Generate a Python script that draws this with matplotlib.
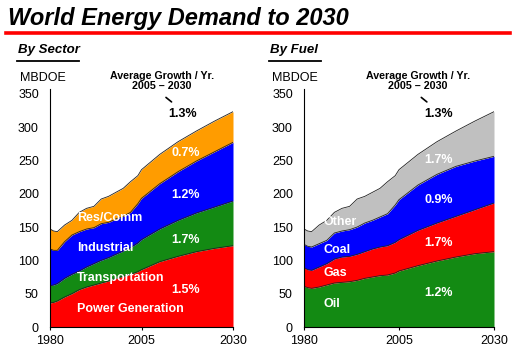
import matplotlib
matplotlib.use("Agg")
import matplotlib.pyplot as plt
from matplotlib.lines import Line2D

plt.rcParams['font.family'] = ['Liberation Sans', 'DejaVu Sans']

# data (MBDOE)
years = [1980, 1981, 1982, 1984, 1986, 1988, 1990, 1992, 1994, 1996, 1998,
         2000, 2002, 2004, 2005, 2010, 2015, 2020, 2025, 2030]

power = [36, 37, 39, 45, 50, 56, 60, 63, 66, 69, 73, 76, 79, 83, 86, 98, 106, 113, 118, 122]
transport = [26, 26, 26, 28, 29, 28, 30, 32, 34, 35, 36, 38, 40, 43, 45, 49, 54, 58, 62, 67]
industrial = [55, 52, 50, 55, 59, 59, 57, 54, 55, 53, 53, 52, 53, 59, 62, 68, 73, 78, 83, 88]
rescomm = [30, 29, 28, 25, 22, 29, 31, 32, 37, 39, 40, 42, 46, 42, 43, 44, 45, 45, 46, 46]

oil = [61, 59, 58, 60, 63, 66, 67, 68, 70, 73, 75, 77, 78, 81, 84, 92, 99, 105, 110, 113]
gas = [28, 27, 27, 30, 32, 36, 38, 38, 39, 40, 42, 43, 44, 46, 47, 53, 57, 61, 66, 73]
coal = [35, 35, 35, 35, 35, 39, 39, 40, 41, 43, 43, 45, 48, 56, 60, 68, 73, 75, 73, 70]
other = [23, 23, 23, 28, 30, 31, 34, 35, 42, 40, 42, 43, 48, 44, 45, 46, 49, 53, 60, 67]

sector_names = ["Power Generation", "Transportation", "Industrial", "Res/Comm"]
sector_growth = ["1.5%", "1.7%", "1.2%", "0.7%"]
fuel_names = ["Oil", "Gas", "Coal", "Other"]
fuel_growth = ["1.2%", "1.7%", "0.9%", "1.7%"]
total_growth = "1.3%"

c_orange = "#FF9C00"
c_blue = "#0000FF"
c_green = "#138A13"
c_red = "#FF0000"
c_gray = "#C0C0C0"

fig = plt.figure(figsize=(5.16, 3.63), dpi=100)
W, H = 516.0, 363.0


def fx(px):
    return px / W


def fy(py):
    return 1 - py / H


# header
fig.text(fx(8), fy(19), "World Energy Demand to 2030", fontsize=17, fontweight="bold",
         fontstyle="italic", va="center", ha="left")
fig.add_artist(Line2D([fx(6), fx(510)], [fy(33), fy(33)], color="#FF0000", lw=2.6))

for txt, x0, x1 in [("By Sector", 18, 79), ("By Fuel", 270, 321)]:
    fig.text(fx(x0), fy(50), txt, fontsize=9.5, fontweight="bold", fontstyle="italic",
             va="center", ha="left")
    fig.add_artist(Line2D([fx(x0 - 1), fx(x1)], [fy(61), fy(61)], color="black", lw=1.3))


def setup(ax):
    ax.set_xlim(1980, 2030)
    ax.set_ylim(0, 357)
    ax.set_yticks(range(0, 351, 50))
    ax.set_xticks([1980, 2005, 2030])
    ax.spines["top"].set_visible(False)
    ax.spines["right"].set_visible(False)
    ax.tick_params(axis="y", length=0, pad=8, labelsize=9)
    ax.tick_params(axis="x", length=2, pad=4, labelsize=9)
    ax.set_facecolor("none")


def stack(ax, layers, colors):
    base = [0] * len(years)
    for vals, col in zip(layers, colors):
        top = [b + v for b, v in zip(base, vals)]
        ax.fill_between(years, base, top, color=col, lw=0)
        ax.plot(years, top, color="#222222", lw=0.6)
        base = top
    return base


lab_kw = dict(color="white", fontsize=9, fontweight="bold", va="center", ha="left")
pct_kw = dict(color="white", fontsize=9, fontweight="bold", va="center", ha="center")

# left: by sector
h_ax = (327 - 89) / H
ax1 = fig.add_axes([fx(50), fy(327), (233 - 50) / W, h_ax])
setup(ax1)
stack(ax1, [power, transport, industrial, rescomm], [c_red, c_green, c_blue, c_orange])

for name, yv in zip(sector_names, [27, 74, 119, 164]):
    ax1.text(1987.4, yv, name, **lab_kw)
for g, yv in zip(sector_growth, [56, 131, 198, 261]):
    ax1.text(2017, yv, g, **pct_kw)

# right: by fuel
ax2 = fig.add_axes([fx(304), fy(327), (494 - 304) / W, h_ax])
setup(ax2)
stack(ax2, [oil, gas, coal, other], [c_green, c_red, c_blue, c_gray])

for name, yv in zip(fuel_names, [35, 81, 116, 157]):
    ax2.text(1985, yv, name, **lab_kw)
for g, yv in zip(fuel_growth, [51, 126, 191, 251]):
    ax2.text(2015.4, yv, g, **pct_kw)

# growth note
for ax, xc, x0, x1, xp in [(ax1, 2010.6, 2011.1, 2013.8, 2016.3),
                           (ax2, 2010.0, 2010.3, 2012.9, 2015.3)]:
    ax.text(xc, 369, "Average Growth / Yr.\n2005 \u2013 2030", fontsize=7.7, fontweight="bold",
            ha="center", va="center", linespacing=1.05, clip_on=False)
    ax.annotate("", xy=(x1, 335), xytext=(x0, 347),
                arrowprops=dict(arrowstyle="-", color="black", lw=1.2), annotation_clip=False)
    ax.text(xp, 320, total_growth, fontsize=9, fontweight="bold", ha="center", va="center")

fig.text(fx(20), fy(78), "MBDOE", fontsize=9, ha="left", va="center")
fig.text(fx(272), fy(78), "MBDOE", fontsize=9, ha="left", va="center")

fig.savefig("out.png", dpi=100)
